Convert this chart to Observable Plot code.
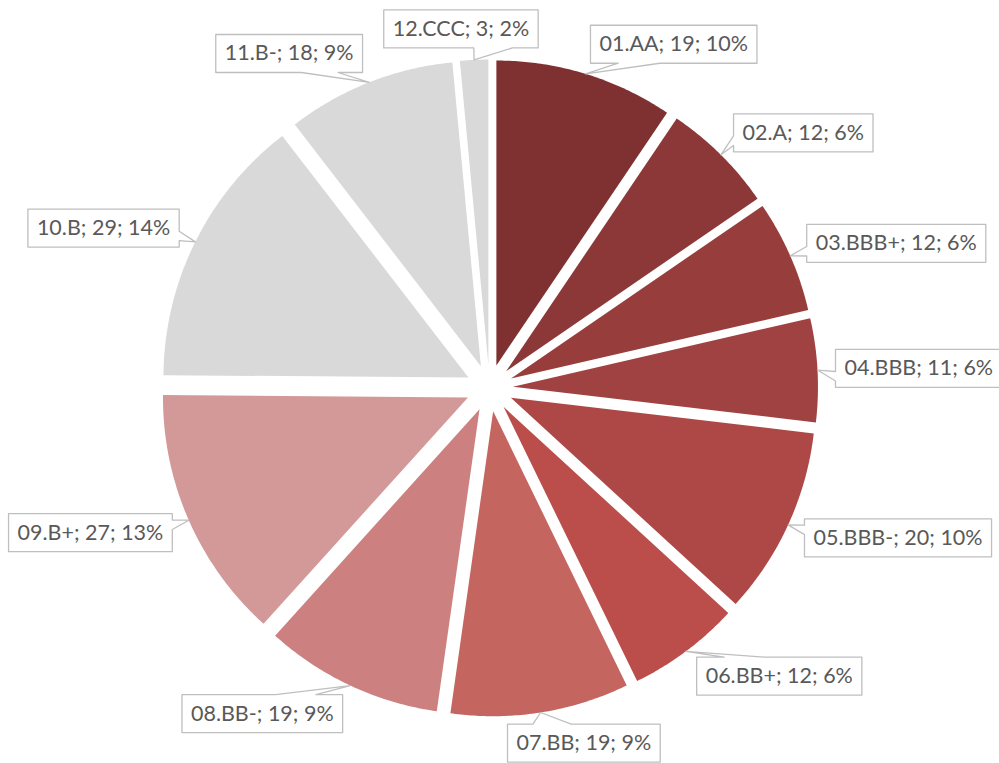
<!DOCTYPE html>
<html>
<head>
<meta charset="utf-8">
<script src="https://cdn.jsdelivr.net/npm/d3@7"></script>
<script src="https://cdn.jsdelivr.net/npm/@observablehq/plot@0.6"></script>
<style>
  html, body { margin: 0; padding: 0; background: #fff; overflow: hidden; }
</style>
</head>
<body>
<div id="chart"></div>
<script>
// ---- data ----
const categories = ["01.AA", "02.A", "03.BBB+", "04.BBB", "05.BBB-", "06.BB+", "07.BB", "08.BB-", "09.B+", "10.B", "11.B-", "12.CCC"];
const counts = [19, 12, 12, 11, 20, 12, 19, 19, 27, 29, 18, 3];
const percentLabels = ["10%", "6%", "6%", "6%", "10%", "6%", "9%", "9%", "13%", "14%", "9%", "2%"];

// ---- style ----
const palette = ["#7f3131", "#8c3838", "#973e3d", "#a14242", "#ad4846", "#bb4e4b", "#c46560", "#cc8180", "#d39998", "#d9d9d9", "#d9d9d9", "#d9d9d9"];
const W = 999, H = 763;
const margin = {left: 184, right: 205, top: 82.5, bottom: 70.5};
const k = (W - margin.left - margin.right) / 2;   // pixels per radius unit
const explode = 23.5 / 305;                          // slice offset, fraction of radius
const FONT = "Lato, 'Open Sans', sans-serif";
const FS = 21.5, PADX = 9, BOXH = 38;

const labels = categories.map((c, i) => `${c}; ${counts[i]}; ${percentLabels[i]}`);

function measure(texts) {
  const svg = d3.select("body").append("svg").attr("width", 10).attr("height", 10);
  const t = svg.append("text").attr("font-family", FONT).attr("font-size", FS);
  const out = texts.map(s => { t.text(s); return t.node().getComputedTextLength(); });
  svg.remove();
  return out;
}
const widths = measure(labels);

// speech-bubble (wedge rectangle callout) outline in pixel offsets (y down)
function bubble(l, t, w, h, tx, ty) {
  const r = l + w, b = t + h, cx = l + w / 2, cy = t + h / 2;
  const dx = tx - cx, dy = ty - cy;
  const inside = tx >= l && tx <= r && ty >= t && ty <= b;
  const vert = Math.abs(dy) > Math.abs(dx) * h / w;
  const xa = l + w * (dx > 0 ? 7 : 2) / 12, xb = l + w * (dx > 0 ? 10 : 5) / 12;
  const ya = t + h * (dy > 0 ? 7 : 2) / 12, yb = t + h * (dy > 0 ? 10 : 5) / 12;
  const pts = [[l, t]];
  if (!inside && vert && dy < 0) pts.push([xa, t], [tx, ty], [xb, t]);
  pts.push([r, t]);
  if (!inside && !vert && dx > 0) pts.push([r, ya], [tx, ty], [r, yb]);
  pts.push([r, b]);
  if (!inside && vert && dy > 0) pts.push([xb, b], [tx, ty], [xa, b]);
  pts.push([l, b]);
  if (!inside && !vert && dx < 0) pts.push([l, yb], [tx, ty], [l, ya]);
  return pts;
}

const arcs = d3.pie().value(d => d).sort(null)(counts);
const slicePts = [], bubblePts = [], labelRows = [];
arcs.forEach((a, i) => {
  const cat = categories[i];
  const m = (a.startAngle + a.endAngle) / 2;
  const ox = explode * Math.sin(m), oy = explode * Math.cos(m);
  slicePts.push({cat, x: ox, y: oy});
  const n = Math.max(2, Math.ceil((a.endAngle - a.startAngle) / (Math.PI / 360)));
  for (let j = 0; j <= n; j++) {
    const t = a.startAngle + (a.endAngle - a.startAngle) * j / n;
    slicePts.push({cat, x: ox + Math.sin(t), y: oy + Math.cos(t)});
  }
  // leader tip on the outer edge at the bisector
  const tpx = (1 + explode) * Math.sin(m) * k;
  const tpy = -(1 + explode) * Math.cos(m) * k;
  const w = widths[i] + 2 * PADX, h = BOXH;
  const f = Math.min(1, Math.max(0, 0.5 - 1.7 * Math.sin(m)));
  const left = tpx + 18 * Math.sin(m) - f * w;
  const cyb = tpy - 31 * Math.cos(m);
  const top = cyb - h / 2;
  bubble(left, top, w, h, tpx, tpy).forEach(([px, py]) => bubblePts.push({cat, x: px / k, y: -py / k}));
  labelRows.push({cat, text: labels[i], x: (left + w / 2) / k, y: -cyb / k});
});

const chart = Plot.plot({
  width: W, height: H,
  marginLeft: margin.left, marginRight: margin.right, marginTop: margin.top, marginBottom: margin.bottom,
  x: {domain: [-1, 1], axis: null},
  y: {domain: [-1, 1], axis: null},
  color: {domain: categories, range: palette},
  style: {background: "white", overflow: "visible"},
  marks: [
    Plot.line(slicePts, {x: "x", y: "y", z: "cat", fill: "cat", stroke: "none", curve: "linear-closed"}),
    Plot.line(bubblePts, {x: "x", y: "y", z: "cat", fill: "white", stroke: "#bfbfbf", strokeWidth: 1.3, curve: "linear-closed"}),
    Plot.text(labelRows, {x: "x", y: "y", text: "text", fill: "#595959", fontSize: FS, fontFamily: FONT, textAnchor: "middle", lineAnchor: "middle"})
  ]
});
document.getElementById("chart").appendChild(chart);
</script>
</body>
</html>
